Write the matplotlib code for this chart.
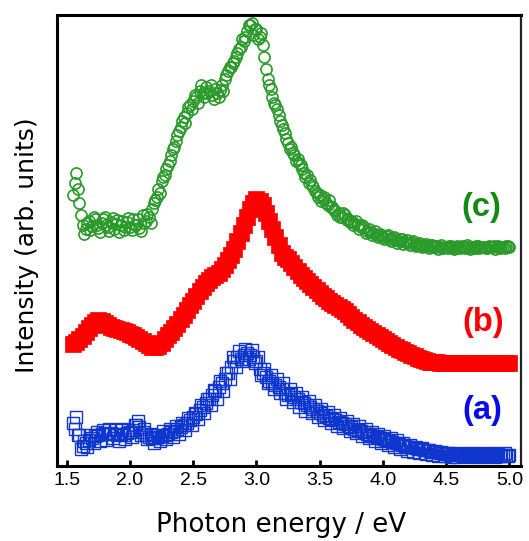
import numpy as np
import matplotlib
matplotlib.use("Agg")
import matplotlib.pyplot as plt

plt.rcParams['font.family'] = ['Liberation Sans', 'DejaVu Sans']

# photon energy grid (eV), 0.025 eV step
energy = np.array([
    1.550, 1.575, 1.600, 1.625, 1.650, 1.675, 1.700, 1.725, 1.750, 1.775,
    1.800, 1.825, 1.850, 1.875, 1.900, 1.925, 1.950, 1.975, 2.000, 2.025,
    2.050, 2.075, 2.100, 2.125, 2.150, 2.175, 2.200, 2.225, 2.250, 2.275,
    2.300, 2.325, 2.350, 2.375, 2.400, 2.425, 2.450, 2.475, 2.500, 2.525,
    2.550, 2.575, 2.600, 2.625, 2.650, 2.675, 2.700, 2.725, 2.750, 2.775,
    2.800, 2.825, 2.850, 2.875, 2.900, 2.925, 2.950, 2.975, 3.000, 3.025,
    3.050, 3.075, 3.100, 3.125, 3.150, 3.175, 3.200, 3.225, 3.250, 3.275,
    3.300, 3.325, 3.350, 3.375, 3.400, 3.425, 3.450, 3.475, 3.500, 3.525,
    3.550, 3.575, 3.600, 3.625, 3.650, 3.675, 3.700, 3.725, 3.750, 3.775,
    3.800, 3.825, 3.850, 3.875, 3.900, 3.925, 3.950, 3.975, 4.000, 4.025,
    4.050, 4.075, 4.100, 4.125, 4.150, 4.175, 4.200, 4.225, 4.250, 4.275,
    4.300, 4.325, 4.350, 4.375, 4.400, 4.425, 4.450, 4.475, 4.500, 4.525,
    4.550, 4.575, 4.600, 4.625, 4.650, 4.675, 4.700, 4.725, 4.750, 4.775,
    4.800, 4.825, 4.850, 4.875, 4.900, 4.925, 4.950, 4.975, 5.000,
])
# second set of points, half a step later
energy_mid = energy[:-1] + 0.0125

# (c) green open circles (offset intensity)
spec_c = np.array([
    270, 292, 262, 240, 236, 244, 239, 246, 237, 242,
    248, 238, 243, 236, 245, 240, 235, 243, 238, 246,
    240, 237, 250, 244, 248, 256, 265, 276, 284, 290,
    300, 310, 318, 330, 338, 348, 352, 360, 364, 368,
    374, 372, 378, 374, 370, 376, 368, 380, 386, 394,
    398, 404, 412, 418, 424, 434, 440, 430, 436, 428,
    420, 396, 380, 368, 360, 350, 340, 332, 322, 318,
    310, 306, 300, 292, 290, 285, 278, 272, 270, 266,
    262, 265, 258, 254, 252, 248, 250, 246, 244, 242,
    240, 238, 238, 234, 233, 232, 230, 231, 228, 229,
    226, 227, 225, 224, 226, 223, 222, 223, 221, 220,
    221, 219, 219, 220, 218, 219, 218, 217, 218, 219,
    218, 217, 218, 219, 217, 218, 218, 217, 219, 218,
    218, 217, 218, 219, 218, 217, 218, 219, 218,
])
spec_c_mid = np.array([
    282, 276, 250, 231, 242, 235, 248, 240, 233, 246,
    240, 234, 247, 241, 233, 244, 238, 247, 235, 240,
    246, 234, 242, 251, 242, 262, 268, 272, 288, 296,
    304, 316, 324, 334, 344, 342, 358, 356, 370, 362,
    380, 368, 372, 380, 366, 372, 375, 374, 390, 398,
    402, 408, 416, 426, 428, 440, 442, 436, 426, 432,
    408, 386, 376, 362, 356, 344, 336, 326, 316, 312,
    304, 302, 296, 288, 282, 280, 274, 268, 264, 268,
    260, 258, 255, 250, 248, 252, 245, 243, 240, 244,
    236, 240, 232, 236, 230, 234, 228, 230, 226, 230,
    224, 228, 222, 226, 221, 225, 220, 224, 219, 222,
    218, 221, 217, 220, 218, 216, 220, 218, 217, 219,
    216, 219, 217, 218, 220, 216, 218, 219, 217, 218,
    217, 219, 218, 216, 219, 218, 217, 219,
])

# (b) red filled squares
spec_b = np.array([
    121, 123, 126, 129, 133, 137, 140, 143, 145, 144,
    142, 140, 138, 137, 136, 135, 134, 133, 131, 130,
    128, 126, 124, 122, 120, 118, 118, 119, 122, 126,
    130, 133, 137, 141, 146, 150, 155, 160, 164, 169,
    174, 178, 182, 185, 188, 190, 192, 196, 200, 205,
    210, 216, 224, 232, 240, 248, 256, 262, 266, 264,
    260, 252, 244, 236, 228, 220, 212, 208, 206, 202,
    198, 194, 190, 187, 184, 181, 178, 175, 172, 169,
    167, 164, 162, 160, 158, 156, 154, 151, 148, 145,
    143, 140, 138, 136, 134, 132, 130, 128, 126, 124,
    122, 120, 118, 116, 115, 113, 112, 110, 109, 107,
    106, 105, 104, 103, 103, 103, 102, 102, 102, 102,
    102, 102, 102, 102, 102, 102, 102, 102, 102, 102,
    102, 102, 102, 102, 102, 102, 102, 102, 102,
])

# (a) blue open squares
spec_a = np.array([
    42, 48, 30, 19, 22, 25, 27, 29, 30, 31,
    32, 31, 32, 31, 30, 31, 30, 32, 33, 35,
    40, 38, 33, 30, 28, 27, 27, 28, 29, 30,
    31, 33, 34, 36, 38, 40, 42, 45, 48, 51,
    55, 58, 62, 66, 70, 74, 78, 82, 86, 92,
    98, 104, 108, 106, 110, 112, 110, 108, 104, 96,
    92, 88, 84, 82, 80, 78, 76, 72, 70, 71,
    68, 66, 63, 62, 60, 58, 56, 54, 52, 50,
    49, 47, 46, 45, 43, 42, 41, 39, 38, 36,
    35, 34, 33, 31, 30, 29, 28, 27, 26, 25,
    24, 23, 22, 21, 20, 19, 18, 18, 17, 16,
    16, 15, 15, 14, 13, 13, 12, 12, 11, 11,
    10, 11, 10, 10, 11, 10, 10, 10, 10, 10,
    10, 10, 9, 10, 10, 9, 10, 10, 10,
])
spec_a_mid = np.array([
    36, 30, 16, 24, 18, 30, 22, 33, 24, 35,
    25, 36, 27, 35, 24, 36, 26, 35, 28, 40,
    44, 30, 36, 26, 31, 22, 30, 24, 34, 26,
    36, 28, 39, 31, 42, 35, 47, 40, 52, 46,
    60, 52, 66, 60, 75, 66, 84, 74, 92, 86,
    108, 98, 114, 104, 116, 106, 115, 102, 108, 90,
    96, 82, 90, 76, 86, 72, 82, 66, 76, 63,
    72, 58, 68, 54, 64, 52, 60, 48, 56, 45,
    53, 42, 50, 39, 47, 37, 44, 34, 41, 32,
    39, 29, 36, 27, 33, 24, 31, 22, 29, 20,
    27, 18, 25, 16, 22, 14, 20, 13, 18, 12,
    17, 11, 15, 10, 14, 9, 13, 9, 12, 8,
    12, 8, 11, 9, 12, 8, 11, 9, 12, 8,
    11, 9, 12, 8, 11, 9, 12, 9,
])

labels = ['(a)', '(b)', '(c)']
label_x = [4.79, 4.79, 4.78]
label_y = [55, 143, 257]
label_colors = ['#0a0aee', '#ff0000', '#138a13']

fig = plt.figure(figsize=(5.29, 5.41), dpi=100)
ax = fig.add_axes([0.1078, 0.1386, 0.878, 0.8337])

green = '#2a9a2a'
blue = '#1036d0'
for x, y in [(energy, spec_c), (energy_mid, spec_c_mid)]:
    ax.plot(x, y, ls='none', marker='o', ms=8, mfc='none', mec=green,
            mew=1.2)
ax.plot(energy, spec_b, ls='none', marker='s', ms=11, mfc='#ff0000',
        mec='#ff0000', mew=0.5)
for x, y in [(energy, spec_a), (energy_mid, spec_a_mid)]:
    ax.plot(x, y, ls='none', marker='s', ms=8.5, mfc='none', mec=blue,
            mew=1.0)

for t, x, y, c in zip(labels, label_x, label_y, label_colors):
    ax.text(x, y, t, color=c, fontsize=23.5, fontweight='bold',
            ha='center', va='center')

ax.set_xlim(1.423, 5.096)
ax.set_ylim(-1, 450)
ax.set_xticks([1.5, 2.0, 2.5, 3.0, 3.5, 4.0, 4.5, 5.0])
ax.set_xticklabels(['1.5', '2.0', '2.5', '3.0', '3.5', '4.0', '4.5', '5.0'])
ax.set_yticks([])
ax.tick_params(axis='x', direction='in', length=4, width=2, pad=4,
               labelsize=14)

for side in ['left', 'top', 'bottom']:
    ax.spines[side].set_linewidth(2.2)
ax.spines['right'].set_linewidth(1.6)
ax.spines['right'].set_color('#222222')

ax.set_xlabel('Photon energy / eV', fontsize=18.8, family='DejaVu Sans')
ax.xaxis.set_label_coords(0.482, -0.102)
ax.set_ylabel('Intensity (arb. units)', fontsize=18, family='DejaVu Sans')
ax.yaxis.set_label_coords(-0.0388, 0.489)

fig.savefig('out.png', dpi=100)
